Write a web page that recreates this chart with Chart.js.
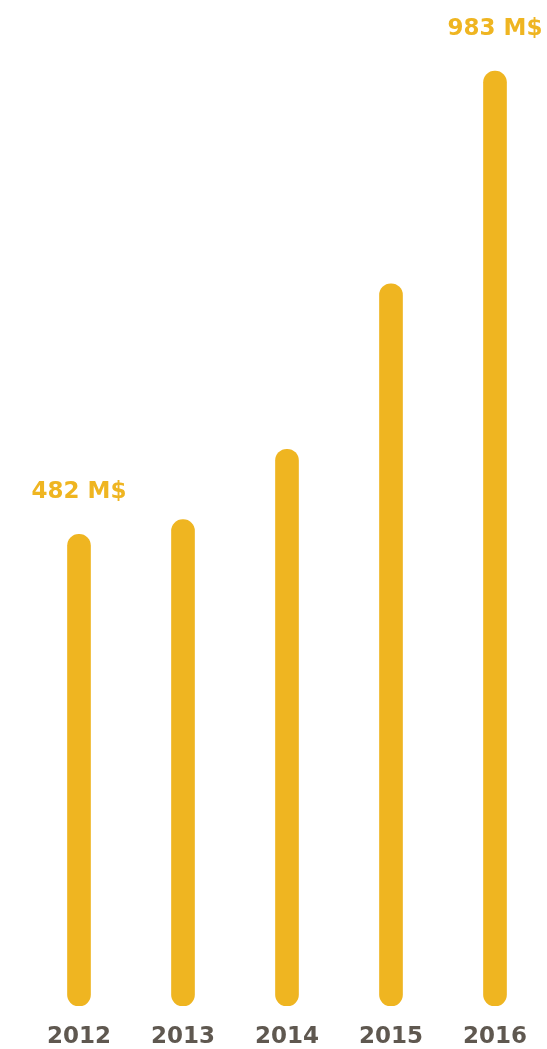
<!DOCTYPE html>
<html>
<head>
<meta charset="utf-8">
<script src="https://cdn.jsdelivr.net/npm/chart.js@4"></script>
<style>
  html, body { margin: 0; padding: 0; background: #ffffff; }
  #wrap { width: 547px; height: 1049px; position: relative; }
</style>
</head>
<body>
<div id="wrap"><canvas id="revenueChart"></canvas></div>
<script>
// Datos del gráfico
const years = ['2012', '2013', '2014', '2015', '2016'];
const revenue = [482, 498, 574, 753, 983];
const valueLabels = ['482 M$', '', '', '', '983 M$'];

const BAR_COLOR = '#EFB521';
const TEXT_COLOR = '#5F5850';
const FONT = '"DejaVu Sans", sans-serif';

// Etiquetas de valor encima de algunas barras
const valueLabelPlugin = {
    id: 'valueLabels',
    afterDatasetsDraw(chart) {
        const ctx = chart.ctx;
        const meta = chart.getDatasetMeta(0);
        ctx.save();
        ctx.font = 'bold 23px ' + FONT;
        ctx.fillStyle = BAR_COLOR;
        ctx.textBaseline = 'middle';
        ctx.textAlign = 'center';
        meta.data.forEach((bar, i) => {
            const text = valueLabels[i];
            if (!text) return;
            const w = ctx.measureText(text).width;
            let x = bar.x;
            if (x + w / 2 > chart.width - 4) x = chart.width - 4 - w / 2;
            ctx.fillText(text, x, bar.y - 42);
        });
        ctx.restore();
    }
};

new Chart(document.getElementById('revenueChart').getContext('2d'), {
    type: 'bar',
    data: {
        labels: years,
        datasets: [{
            data: revenue,
            base: -28,
            backgroundColor: BAR_COLOR,
            barThickness: 23,
            borderRadius: 12,
            borderSkipped: false
        }]
    },
    options: {
        responsive: true,
        maintainAspectRatio: false,
        animation: false,
        layout: { padding: { left: 27, right: -3, top: 60, bottom: 0 } },
        plugins: {
            legend: { display: false },
            tooltip: { enabled: false }
        },
        scales: {
            x: {
                grid: { display: false, drawTicks: false },
                border: { display: false },
                afterFit(scale) { scale.height = 43; },
                ticks: {
                    color: TEXT_COLOR,
                    padding: 17,
                    font: { family: FONT, size: 23, weight: 'bold' }
                }
            },
            y: {
                display: false,
                min: -28,
                max: 995
            }
        }
    },
    plugins: [valueLabelPlugin]
});
</script>
</body>
</html>
